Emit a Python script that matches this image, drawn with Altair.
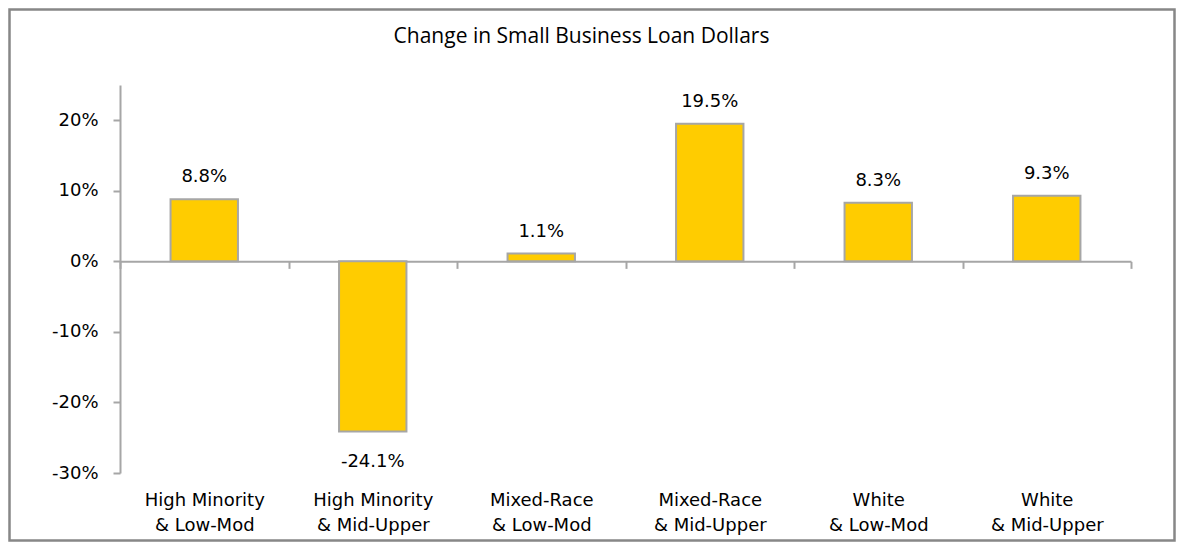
import altair as alt
import pandas as pd

categories = [
    "High Minority & Low-Mod",
    "High Minority & Mid-Upper",
    "Mixed-Race & Low-Mod",
    "Mixed-Race & Mid-Upper",
    "White & Low-Mod",
    "White & Mid-Upper",
]
changes = [0.088, -0.241, 0.011, 0.195, 0.083, 0.093]
y_ticks = [-0.3, -0.2, -0.1, 0.0, 0.1, 0.2]

df = pd.DataFrame({"cat": categories, "val": changes})

W, H = 1011, 388
PL, PT, PR, PB = 112, 77, 45, 69
GRAY = "#A6A6A6"
FONT = "DejaVu Sans"

x_enc = alt.X(
    "cat:N",
    sort=None,
    scale=alt.Scale(paddingInner=0, paddingOuter=0),
    axis=alt.Axis(
        title=None,
        orient="bottom",
        offset=-(H - H * 0.25 / 0.55),
        tickBand="extent",
        domainColor=GRAY,
        domainWidth=2,
        tickColor=GRAY,
        tickWidth=2,
        tickSize=7,
        labelPadding=223,
        labelAngle=0,
        labelFont=FONT,
        labelFontSize=18,
        labelColor="#000000",
        labelLineHeight=25,
        labelBaseline="top",
        labelExpr="indexof(datum.label + '', ' & ') >= 0 ? [split(datum.label, ' & ')[0], '& ' + split(datum.label, ' & ')[1]] : ''",
    ),
)
y_enc = alt.Y(
    "val:Q",
    scale=alt.Scale(domain=[-0.3, 0.25], nice=False, zero=False),
    axis=alt.Axis(
        title=None,
        values=y_ticks,
        labelExpr="(datum.value < 0 ? '-' : '') + format(abs(datum.value), '.0%')",
        grid=False,
        domainColor=GRAY,
        domainWidth=2,
        tickColor=GRAY,
        tickWidth=2,
        tickSize=7,
        labelPadding=15,
        labelFont=FONT,
        labelFontSize=18,
        labelColor="#000000",
    ),
)

base = alt.Chart(df).transform_calculate(
    lbl="(datum.val < 0 ? '-' : '') + format(abs(datum.val), '.1%')"
)

bars = base.mark_bar(
    color="#FFCC00", stroke=GRAY, strokeWidth=2, width=alt.RelativeBandSize(0.4)
).encode(x=x_enc, y=y_enc, y2=alt.datum(0))

pos_labels = base.transform_filter("datum.val >= 0").mark_text(
    font=FONT, fontSize=18, color="#000000", baseline="alphabetic", dy=-17
).encode(x=alt.X("cat:N", sort=None), y="val:Q", text="lbl:N")

neg_labels = base.transform_filter("datum.val < 0").mark_text(
    font=FONT, fontSize=18, color="#000000", baseline="top", dy=22
).encode(x=alt.X("cat:N", sort=None), y="val:Q", text="lbl:N")

frame = alt.Chart(alt.Data(values=[{"f": 1}])).mark_rect(
    fill="transparent", stroke="#878787", strokeWidth=2.5
).encode(
    x=alt.value(-PL + 1.5),
    x2=alt.value(W + PR - 1.5),
    y=alt.value(-PT + 1.5),
    y2=alt.value(H + PB - 1.5),
)

chart = alt.layer(bars, pos_labels, neg_labels, frame).properties(
    width=W,
    height=H,
    autosize=alt.AutoSizeParams(type="none"),
    padding={"left": PL, "top": PT, "right": PR, "bottom": PB},
    title=alt.TitleParams(
        "Change in Small Business Loan Dollars",
        font="Open Sans",
        fontSize=21,
        fontWeight="normal",
        color="#000000",
        anchor="middle",
        dx=-44,
        baseline="alphabetic",
        offset=-56,
    ),
).configure(
    background="white",
    view=alt.ViewConfig(stroke="transparent", strokeWidth=0),
)

chart.save("out.html", embed_options={"renderer": "svg", "actions": False})
